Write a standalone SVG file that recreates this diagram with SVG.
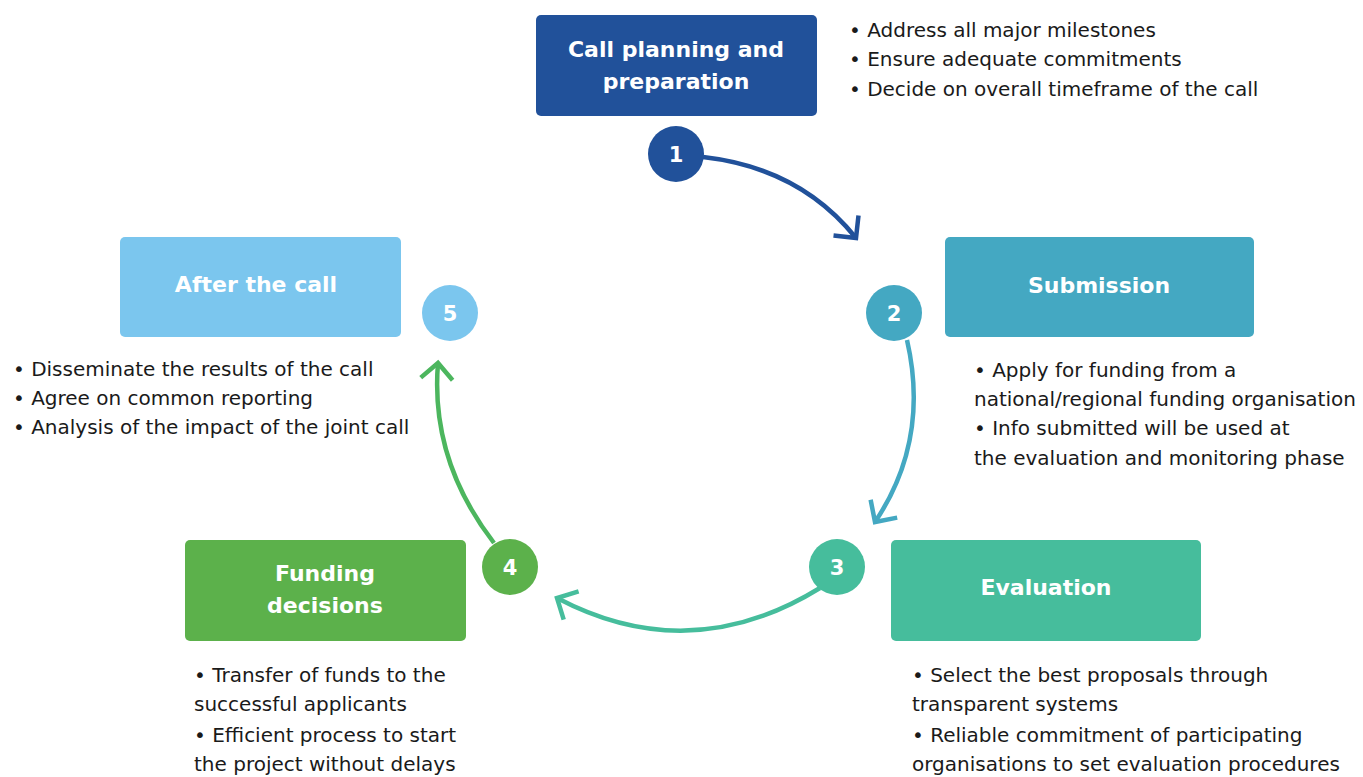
<svg xmlns="http://www.w3.org/2000/svg" width="1363" height="777" viewBox="0 0 1363 777">
<style>
.title{font-family:"DejaVu Sans",Verdana,sans-serif;font-weight:bold;font-size:22px;fill:#ffffff;text-anchor:middle}
.num{font-family:"DejaVu Sans",Verdana,sans-serif;font-weight:bold;font-size:21px;fill:#ffffff;text-anchor:middle}
.body{font-family:"DejaVu Sans",Verdana,sans-serif;font-size:20px;fill:#1a1a1a}
.conn{fill:none;stroke-width:4.5;stroke-linecap:butt}
</style>
<defs>
<marker id="ah1" markerUnits="userSpaceOnUse" viewBox="-20 -20 24 40" refX="0" refY="0" markerWidth="24" markerHeight="40" orient="auto"><path d="M-16,-16 L0,0 L-16,16" fill="none" stroke="#21519a" stroke-width="4.5"/></marker>
<marker id="ah2" markerUnits="userSpaceOnUse" viewBox="-20 -20 24 40" refX="0" refY="0" markerWidth="24" markerHeight="40" orient="auto"><path d="M-16,-16 L0,0 L-16,16" fill="none" stroke="#44a8c2" stroke-width="4.5"/></marker>
<marker id="ah3" markerUnits="userSpaceOnUse" viewBox="-20 -20 24 40" refX="0" refY="0" markerWidth="24" markerHeight="40" orient="auto"><path d="M-16,-16 L0,0 L-16,16" fill="none" stroke="#46bd9c" stroke-width="4.5"/></marker>
<marker id="ah4" markerUnits="userSpaceOnUse" viewBox="-20 -20 24 40" refX="0" refY="0" markerWidth="24" markerHeight="40" orient="auto"><path d="M-16,-16 L0,0 L-16,16" fill="none" stroke="#4cb65e" stroke-width="4.5"/></marker>
</defs>
<rect width="1363" height="777" fill="#ffffff"/>
<g id="connectors">
<path class="conn" stroke="#21519a" d="M703,157 Q800,168 856,238" marker-end="url(#ah1)"/>
<path class="conn" stroke="#44a8c2" d="M907,340 Q930,440 875,522" marker-end="url(#ah2)"/>
<path class="conn" stroke="#46bd9c" d="M820,588 Q690,668 557,598" marker-end="url(#ah3)"/>
<path class="conn" stroke="#4cb65e" d="M494,543 Q430,460 438,363" marker-end="url(#ah4)"/>
</g>
<g id="node1">
<rect x="536" y="15" width="281" height="101" rx="5" fill="#21519a"/>
<text class="title" x="676" y="57">Call planning and</text>
<text class="title" x="676" y="89">preparation</text>
<circle cx="676" cy="154" r="28" fill="#21519a"/>
<text class="num" x="676" y="162">1</text>
<text class="body" x="849" y="37">• Address all major milestones</text>
<text class="body" x="849" y="66">• Ensure adequate commitments</text>
<text class="body" x="849" y="96">• Decide on overall timeframe of the call</text>
</g>
<g id="node2">
<rect x="945" y="237" width="309" height="100" rx="5" fill="#44a8c2"/>
<text class="title" x="1099" y="293">Submission</text>
<circle cx="894" cy="313" r="28" fill="#44a8c2"/>
<text class="num" x="894" y="321">2</text>
<text class="body" x="974" y="377">• Apply for funding from a</text>
<text class="body" x="974" y="406">national/regional funding organisation</text>
<text class="body" x="974" y="435">• Info submitted will be used at</text>
<text class="body" x="974" y="465">the evaluation and monitoring phase</text>
</g>
<g id="node3">
<rect x="891" y="540" width="310" height="101" rx="5" fill="#46bd9c"/>
<text class="title" x="1046" y="595">Evaluation</text>
<circle cx="837" cy="567" r="28" fill="#46bd9c"/>
<text class="num" x="837" y="575">3</text>
<text class="body" x="912" y="682">• Select the best proposals through</text>
<text class="body" x="912" y="711">transparent systems</text>
<text class="body" x="912" y="742">• Reliable commitment of participating</text>
<text class="body" x="912" y="771">organisations to set evaluation procedures</text>
</g>
<g id="node4">
<rect x="185" y="540" width="281" height="101" rx="5" fill="#5cb14b"/>
<text class="title" x="325" y="581">Funding</text>
<text class="title" x="325" y="613">decisions</text>
<circle cx="510" cy="567" r="28" fill="#5cb14b"/>
<text class="num" x="510" y="575">4</text>
<text class="body" x="194" y="682">• Transfer of funds to the</text>
<text class="body" x="194" y="711">successful applicants</text>
<text class="body" x="194" y="742">• Efficient process to start</text>
<text class="body" x="194" y="771">the project without delays</text>
</g>
<g id="node5">
<rect x="120" y="237" width="281" height="100" rx="5" fill="#7bc6ee"/>
<text class="title" x="256" y="292">After the call</text>
<circle cx="450" cy="313" r="28" fill="#7bc6ee"/>
<text class="num" x="450" y="321">5</text>
<text class="body" x="13" y="376">• Disseminate the results of the call</text>
<text class="body" x="13" y="405">• Agree on common reporting</text>
<text class="body" x="13" y="434">• Analysis of the impact of the joint call</text>
</g>
</svg>
